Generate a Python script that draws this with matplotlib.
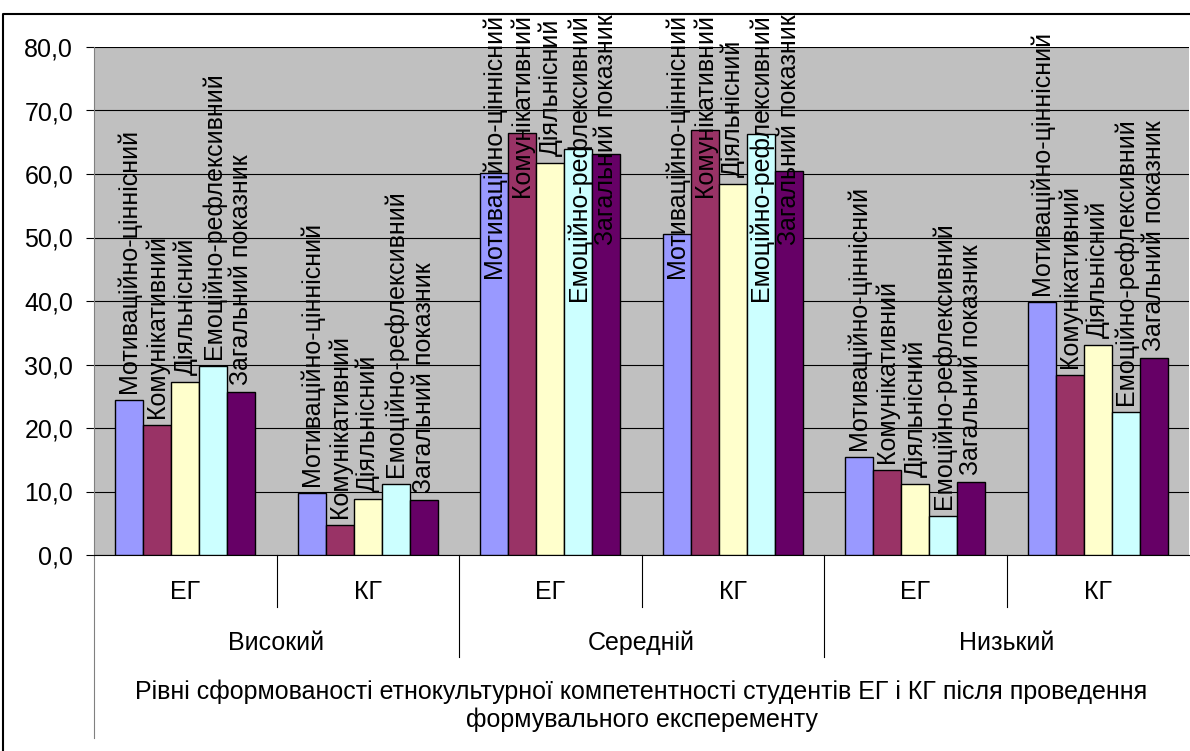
import matplotlib.pyplot as plt
from matplotlib.lines import Line2D
from matplotlib import transforms

plt.rcParams['font.family'] = ['Liberation Sans', 'DejaVu Sans']

# groups: Високий ЕГ, Високий КГ, Середній ЕГ, Середній КГ, Низький ЕГ, Низький КГ
groups = ['ЕГ', 'КГ', 'ЕГ', 'КГ', 'ЕГ', 'КГ']
levels = ['Високий', 'Середній', 'Низький']
series = ['Мотиваційно-ціннісний', 'Комунікативний', 'Діяльнісний',
          'Емоційно-рефлексивний', 'Загальний показник']
motiv = [24.4, 9.8, 60.2, 50.6, 15.5, 39.9]
komun = [20.5, 4.8, 66.5, 66.9, 13.4, 28.3]
diyal = [27.2, 8.8, 61.8, 58.4, 11.2, 33.1]
emots = [29.7, 11.2, 64.0, 66.3, 6.2, 22.5]
zagal = [25.6, 8.6, 63.1, 60.4, 11.5, 31.0]
values = [motiv, komun, diyal, emots, zagal]
colors = ['#9999FF', '#993366', '#FFFFCC', '#CCFFFF', '#660066']
title = ('Рівні сформованості етнокультурної компетентності студентів ЕГ і КГ після проведення\n'
         'формувального експеременту')
fs = 18

W, H = 1190, 751
fig = plt.figure(figsize=(W / 100, H / 100), dpi=100)
left, right, top, bottom = 94, 1189, 47, 555
ax = fig.add_axes([left / W, 1 - bottom / H, (right - left) / W, (bottom - top) / H])
ax.set_facecolor('#C0C0C0')
ax.set_xlim(0, 6)
ax.set_ylim(0, 80)
ax.set_yticks(range(0, 81, 10))
ax.set_yticklabels([('%.1f' % v).replace('.', ',') for v in range(0, 81, 10)], fontsize=fs)
ax.tick_params(axis='y', direction='out', length=6, width=0.8, pad=9)
ax.set_xticks([])
ax.grid(axis='y', color='black', linewidth=0.8)
ax.set_axisbelow(True)
for s in ['top', 'right']:
    ax.spines[s].set_visible(False)
ax.spines['left'].set_color('#808080')
ax.spines['bottom'].set_color('black')

bw = 1 / 6.5
fig.canvas.draw()
renderer = fig.canvas.get_renderer()
for i, name in enumerate(series):
    xs = [g + 0.5 + (i - 2) * bw for g in range(6)]
    ax.bar(xs, values[i], width=bw, color=colors[i], edgecolor='black', linewidth=1.0, zorder=3)
    for x, v in zip(xs, values[i]):
        tr = transforms.offset_copy(ax.transData, fig=fig, x=0, y=7, units='dots')
        t = ax.text(x, v, name, rotation=90, ha='center', va='bottom', fontsize=fs,
                    transform=tr, zorder=4)
        bb = t.get_window_extent(renderer)
        lim = H - 14
        if bb.y1 > lim:
            # excel pushes the label down so it stays in the chart area
            t.set_transform(transforms.offset_copy(ax.transData, fig=fig, x=0,
                                                   y=7 - (bb.y1 - lim), units='dots'))

# multi level category axis
bt = transforms.blended_transform_factory(ax.transData, fig.transFigure)
def fy(px):
    return 1 - px / H

for g in range(6):
    ax.text(g + 0.5, fy(592), groups[g], transform=bt, ha='center', va='center', fontsize=fs)
for k in range(3):
    ax.text(2 * k + 1, fy(643), levels[k], transform=bt, ha='center', va='center', fontsize=fs)
ax.text(3, fy(706), title, transform=bt, ha='center', va='center', fontsize=fs, linespacing=1.2)

for x in [1, 3, 5]:
    ax.add_line(Line2D([x, x], [fy(555), fy(607)], transform=bt, color='black', lw=0.8, clip_on=False))
for x in [2, 4]:
    ax.add_line(Line2D([x, x], [fy(555), fy(657)], transform=bt, color='black', lw=0.8, clip_on=False))
ax.add_line(Line2D([0, 0], [fy(555), fy(738)], transform=bt, color='#808080', lw=0.8, clip_on=False))

# chart area border
fig.add_artist(Line2D([3 / W, 3 / W, 1], [0, fy(14), fy(14)], color='black', lw=1.5))

plt.savefig('out.png', dpi=100)
